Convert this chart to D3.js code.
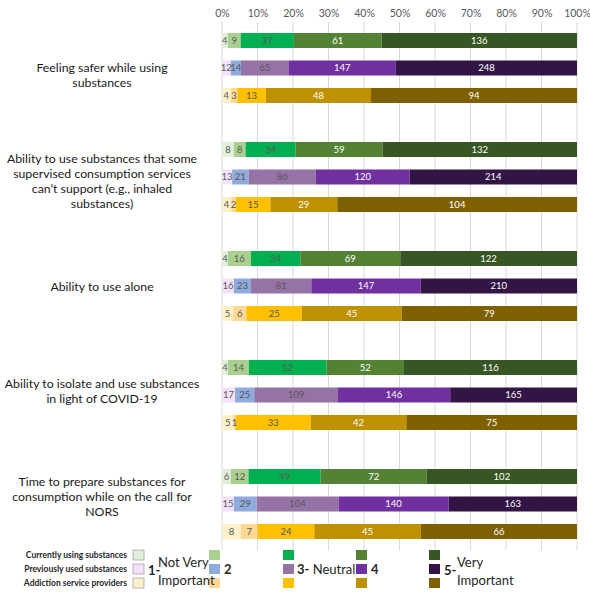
<!DOCTYPE html>
<html>
<head>
<meta charset="utf-8">
<script src="https://cdn.jsdelivr.net/npm/d3@7"></script>
<style>
  html, body { margin: 0; padding: 0; background: #fff; }
  svg { display: block; font-family: Lato, "Open Sans", sans-serif; }
</style>
</head>
<body>
<svg id="chart" width="590" height="595"></svg>
<script>
// ---- data ----
const groups = [
  "Feeling safer while using substances",
  "Ability to use substances that some supervised consumption services can’t support (e.g., inhaled substances)",
  "Ability to use alone",
  "Ability to isolate and use substances in light of COVID-19",
  "Time to prepare substances for consumption while on the call for NORS"
];
const groupLabelLines = [
  ["Feeling safer while using", "substances"],
  ["Ability to use substances that some", "supervised consumption services", "can’t support (e.g., inhaled", "substances)"],
  ["Ability to use alone"],
  ["Ability to isolate and use substances", "in light of COVID-19"],
  ["Time to prepare substances for", "consumption while on the call for", "NORS"]
];
const respondents = ["Currently using substances", "Previously used substances", "Addiction service providers"];
const ratings = ["1- Not Very Important", "2", "3- Neutral", "4", "5- Very Important"];

const currentlyUsing = [
  [4, 9, 37, 61, 136],
  [8, 8, 34, 59, 132],
  [4, 16, 34, 69, 122],
  [4, 14, 52, 52, 116],
  [6, 12, 49, 72, 102]
];
const previouslyUsed = [
  [12, 14, 65, 147, 248],
  [13, 21, 86, 120, 214],
  [16, 23, 81, 147, 210],
  [17, 25, 109, 146, 165],
  [15, 29, 104, 140, 163]
];
const providers = [
  [4, 3, 13, 48, 94],
  [4, 2, 15, 29, 104],
  [5, 6, 25, 45, 79],
  [5, 1, 33, 42, 75],
  [8, 7, 24, 45, 66]
];
const tickValues = [0, 0.1, 0.2, 0.3, 0.4, 0.5, 0.6, 0.7, 0.8, 0.9, 1.0];

// ---- styles ----
const palettes = {
  "Currently using substances": ["#e2efd9", "#a9d08e", "#00b050", "#548235", "#375623"],
  "Previously used substances": ["#f5e1fb", "#8faadc", "#9673a6", "#7030a0", "#321545"],
  "Addiction service providers": ["#fbf0c9", "#ffd993", "#ffc000", "#bf9000", "#7f6000"]
};
const textColors = ["#595959", "#595959", "#595959", "#ffffff", "#ffffff"];
const seriesData = {
  "Currently using substances": currentlyUsing,
  "Previously used substances": previouslyUsed,
  "Addiction service providers": providers
};

const svg = d3.select("#chart");

const x = d3.scaleLinear().domain([0, 1]).range([222, 577]);
const yGroup = d3.scaleBand().domain(groups).range([33, 33 + 5 * 109]);
const yLabel = d3.scaleBand().domain(groups).range([23, 549.5]);
const yRow = d3.scaleBand().domain(respondents).range([-6.25, 76.25])
  .paddingInner(0.4545).paddingOuter(0.2273);

// gridlines
svg.append("g").selectAll("line").data(tickValues).join("line")
  .attr("x1", d => x(d)).attr("x2", d => x(d))
  .attr("y1", 22).attr("y2", 550)
  .attr("stroke", "#d9d9d9").attr("stroke-width", 1);

// axis
const axis = svg.append("g").attr("transform", "translate(0,20)")
  .call(d3.axisTop(x).tickValues(tickValues).tickFormat(d3.format(".0%")).tickSize(0).tickPadding(3));
axis.select(".domain").remove();
axis.selectAll("text").attr("fill", "#595959").style("font-size", "10.5px").style("font-family", "Lato, sans-serif");

// bars
groups.forEach((g, gi) => {
  const gy = yGroup(g);
  respondents.forEach(r => {
    const vals = seriesData[r][gi];
    const total = d3.sum(vals);
    let cum = 0;
    const segs = vals.map((v, i) => {
      const s = { v, i, x0: cum / total, x1: (cum + v) / total };
      cum += v;
      return s;
    });
    const row = svg.append("g").attr("transform", `translate(0,${gy + yRow(r)})`);
    row.selectAll("rect").data(segs).join("rect")
      .attr("x", d => x(d.x0)).attr("width", d => x(d.x1) - x(d.x0))
      .attr("y", 0).attr("height", yRow.bandwidth())
      .attr("fill", d => palettes[r][d.i]);
    row.selectAll("text").data(segs).join("text")
      .attr("x", d => (x(d.x0) + x(d.x1)) / 2)
      .attr("y", yRow.bandwidth() / 2)
      .attr("dy", "0.35em")
      .attr("text-anchor", "middle")
      .attr("fill", d => textColors[d.i])
      .style("font-size", "9.5px")
      .text(d => d.v);
  });
  // group label
  const cy = yLabel(g) + yLabel.bandwidth() / 2;
  const lines = groupLabelLines[gi];
  const lh = 15;
  const t = svg.append("text").attr("text-anchor", "middle").attr("fill", "#1a1a1a")
    .style("font-size", "12.3px");
  lines.forEach((ln, li) => {
    t.append("tspan").attr("x", 102)
      .attr("y", cy + (li - (lines.length - 1) / 2) * lh)
      .attr("dy", "0.35em").text(ln);
  });
});

// legend
const leg = svg.append("g");
const rowYs = [550, 564, 578];
respondents.forEach((r, ri) => {
  leg.append("text").attr("x", 127).attr("y", rowYs[ri] + 5).attr("dy", "0.35em")
    .attr("text-anchor", "end").attr("fill", "#262626")
    .style("font-size", "8.5px").style("font-weight", "bold").text(r);
});
const colX = [133, 209, 283, 356, 429];
ratings.forEach((rt, ci) => {
  respondents.forEach((r, ri) => {
    leg.append("rect").attr("x", colX[ci]).attr("y", rowYs[ri]).attr("width", 11).attr("height", 10)
      .attr("fill", palettes[r][ci])
      .attr("stroke", ci === 0 ? "#a6a6a6" : "none").attr("stroke-width", 0.8);
  });
});
function legText(xp, yp, txt, bold, size) {
  return leg.append("text").attr("x", xp).attr("y", yp).attr("dy", "0.35em").attr("fill", "#262626")
    .style("font-size", size + "px").style("font-weight", bold ? "bold" : "normal").text(txt);
}
legText(148, 570, "1-", true, 13);
legText(158, 562, "Not Very", false, 13);
legText(158, 580, "Important", false, 13);
legText(224, 569, "2", true, 13);
const neutral = legText(297, 569, "", false, 13);
neutral.append("tspan").style("font-weight", "bold").text("3-");
neutral.append("tspan").text(" Neutral");
legText(371, 569, "4", true, 13);
legText(444, 570, "5-", true, 13);
legText(457, 562, "Very", false, 13);
legText(457, 580, "Important", false, 13);
</script>
</body>
</html>
